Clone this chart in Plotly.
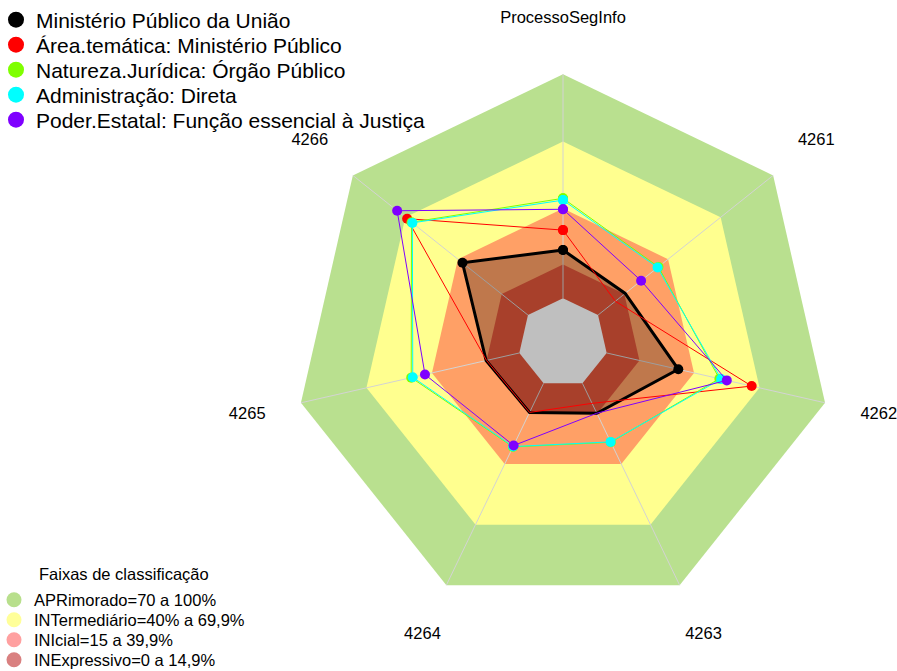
import plotly.graph_objects as go

# Indicator axes, clockwise from the top
categories = ["ProcessoSegInfo", "4261", "4262", "4263", "4264", "4265", "4266"]

# Scores (%) per organisation group
mpu = [21.5, 15.5, 32.8, 14.8, 14.4, 15.2, 37.4]
area_tematica = [30.4, 9.9, 66.4, 9.9, 14.4, 15.0, 69.0]
natureza_juridica = [44.6, 34.5, 51.6, 29.2, 31.5, 49.5, 66.5]
administracao = [43.8, 34.0, 52.4, 29.0, 31.3, 48.8, 66.0]
poder_estatal = [39.7, 24.6, 55.0, 14.8, 30.8, 43.2, 74.7]

series_names = [
    "Ministério Público da União",
    "Área.temática: Ministério Público",
    "Natureza.Jurídica: Órgão Público",
    "Administração: Direta",
    "Poder.Estatal: Função essencial à Justiça",
]
series_values = [mpu, area_tematica, natureza_juridica, administracao, poder_estatal]
series_colors = ["#000000", "#FF0000", "#7FFF00", "#00FFFF", "#7F00FF"]
series_widths = [3, 1, 1, 1, 1]

# Classification bands (upper limit of each band, %)
band_upper = [100, 70, 40, 15]
band_names = [
    "APRimorado=70 a 100%",
    "INTermediário=40% a 69,9%",
    "INIcial=15 a 39,9%",
    "INExpressivo=0 a 14,9%",
]
band_fill = ["#B9E08F", "#FFFF8F", "#FFA066", "#E0563A"]
band_legend_colors = ["#B8DF8C", "#FFFF99", "#FFA0A0", "#D98080"]
legend_title = "Faixas de classificação"

FONT = "Liberation Sans, Arial, sans-serif"
W, H = 897, 671
CX, CY = 563, 343           # centre of the web, px
PX_PER_UNIT = 2.24          # radial scale, px per percentage point
R_MIN, R_MAX = -20, 125.5   # radial range (negative part leaves the empty centre)
LABEL_R = 124.6             # radius at which axis names are written
R_PX = PX_PER_UNIT * (R_MAX - R_MIN)


def closed(seq):
    return list(seq) + [seq[0]]


fig = go.Figure()

# Band polygons, largest first
for upper, color in zip(band_upper, band_fill):
    fig.add_trace(go.Scatterpolar(
        r=closed([upper] * len(categories)), theta=closed(categories),
        mode="lines", fill="toself", fillcolor=color,
        line=dict(width=0, color=color), showlegend=False, hoverinfo="skip"))

# Empty centre
fig.add_trace(go.Scatterpolar(
    r=closed([0] * len(categories)), theta=closed(categories),
    mode="lines", fill="toself", fillcolor="#FFFFFF",
    line=dict(width=0, color="#FFFFFF"), showlegend=False, hoverinfo="skip"))

# Spokes
spoke_r, spoke_t = [], []
for c in categories:
    spoke_r += [0, band_upper[0], None]
    spoke_t += [c, c, None]
fig.add_trace(go.Scatterpolar(
    r=spoke_r, theta=spoke_t, mode="lines",
    line=dict(color="#D3D3D3", width=1), showlegend=False, hoverinfo="skip"))

# Series
for i, (name, vals, color, w) in enumerate(zip(series_names, series_values, series_colors, series_widths)):
    fig.add_trace(go.Scatterpolar(
        r=closed(vals), theta=closed(categories), mode="lines+markers",
        fill="toself" if i == 0 else "none",
        fillcolor="rgba(0,0,0,0.25)",
        line=dict(color=color, width=w),
        marker=dict(size=10, color=color),
        name=name, showlegend=False))

# Axis names
fig.add_trace(go.Scatterpolar(
    r=[LABEL_R] * len(categories), theta=categories, mode="text",
    text=categories, textposition="middle center",
    textfont=dict(family=FONT, size=16.5, color="#000000"),
    cliponaxis=False, showlegend=False, hoverinfo="skip"))

layout_legends = {}

# Series legend entries
top_y = [20, 45, 70, 95, 120]
for i, (name, color) in enumerate(zip(series_names, series_colors)):
    key = "legend" if i == 0 else f"legend{i + 1}"
    fig.add_trace(go.Scatterpolar(
        r=[None], theta=[None], mode="markers",
        marker=dict(size=16, color=color), name=name,
        legend=key, showlegend=True))
    layout_legends[key] = dict(
        x=-4 / W, y=1 - top_y[i] / H, xanchor="left", yanchor="middle",
        font=dict(family=FONT, size=21, color="#000000"),
        bgcolor="rgba(0,0,0,0)", borderwidth=0)

# Band legend entries
bottom_y = [600, 620, 640, 660]
for j, (name, color) in enumerate(zip(band_names, band_legend_colors)):
    key = f"legend{len(series_names) + j + 1}"
    fig.add_trace(go.Scatterpolar(
        r=[None], theta=[None], mode="markers",
        marker=dict(size=15, color=color), name=name,
        legend=key, showlegend=True))
    layout_legends[key] = dict(
        x=-6 / W, y=1 - bottom_y[j] / H, xanchor="left", yanchor="middle",
        font=dict(family=FONT, size=16.5, color="#000000"),
        bgcolor="rgba(0,0,0,0)", borderwidth=0)

fig.update_layout(
    width=W, height=H,
    margin=dict(l=0, r=0, t=0, b=0, autoexpand=False),
    paper_bgcolor="#FFFFFF",
    plot_bgcolor="#FFFFFF",
    font=dict(family=FONT, color="#000000"),
    polar=dict(
        domain=dict(x=[(CX - R_PX / 2 * 2 / 2) / W if False else (CX - R_PX) / W, (CX + R_PX) / W],
                    y=[1 - (CY + R_PX) / H, 1 - (CY - R_PX) / H]),
        bgcolor="rgba(0,0,0,0)",
        gridshape="linear",
        radialaxis=dict(range=[R_MIN, R_MAX], showgrid=False, showline=False,
                        showticklabels=False, ticks=""),
        angularaxis=dict(type="category", categoryarray=categories,
                         rotation=90, direction="clockwise",
                         showgrid=False, showline=False,
                         showticklabels=False, ticks=""),
    ),
    annotations=[dict(
        text=legend_title, xref="paper", yref="paper",
        x=123.5 / W, y=1 - 574 / H, xanchor="center", yanchor="middle",
        showarrow=False, font=dict(family=FONT, size=16.5, color="#000000"))],
    **layout_legends,
)

fig.write_html("out.html")
